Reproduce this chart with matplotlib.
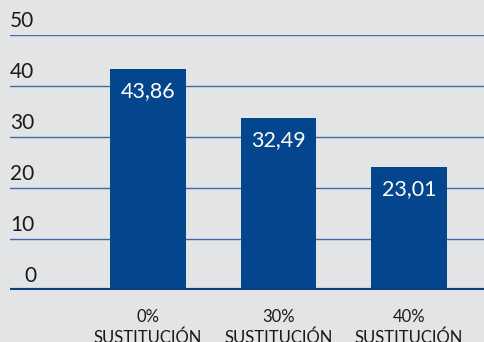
import matplotlib.pyplot as plt

# datos
categorias = ["0%\nSUSTITUCIÓN", "30%\nSUSTITUCIÓN", "40%\nSUSTITUCIÓN"]
alturas = [43.3, 33.7, 24.1]
etiquetas = ["43,86", "32,49", "23,01"]  # valor rotulado
ticks_y = [0, 10, 20, 30, 40, 50]

plt.rcParams['font.family'] = ['Lato', 'DejaVu Sans']

fig = plt.figure(figsize=(4.85, 3.42), dpi=100)
fig.patch.set_facecolor("#e3e4e6")
ax = fig.add_axes([10/485, 52/342, 475/485, 255/342])
ax.set_facecolor("none")

x = range(len(alturas))
ax.bar(x, alturas, width=0.582, color="#03468d", zorder=3)

ax.set_xlim(-1.057, 2.582)
ax.set_ylim(0, 50)

for t in ticks_y[1:]:
    ax.axhline(t, color="#3b6ea8", lw=1, zorder=1)
ax.axhline(0, color="#0d3f7c", lw=3, zorder=4)

for t in ticks_y:
    ax.annotate(str(t), (-1.057, t), xytext=(0 if t else 10, 3), textcoords="offset points",
                ha="left", va="bottom", fontsize=15, color="#1a1a1a", annotation_clip=False)

for i, h in enumerate(alturas):
    ax.annotate(etiquetas[i], (i, h), xytext=(0, -16), textcoords="offset points",
                ha="center", va="center", fontsize=15.5, color="white", zorder=5)
    ax.annotate(categorias[i], (i, 0), xytext=(0, -13.5), textcoords="offset points",
                ha="center", va="top", fontsize=12, color="#1a1a1a",
                linespacing=1.35, annotation_clip=False)

for s in ax.spines.values():
    s.set_visible(False)
ax.set_xticks([])
ax.set_yticks([])

plt.savefig("out.png", dpi=100, facecolor=fig.get_facecolor())
plt.close('all')
